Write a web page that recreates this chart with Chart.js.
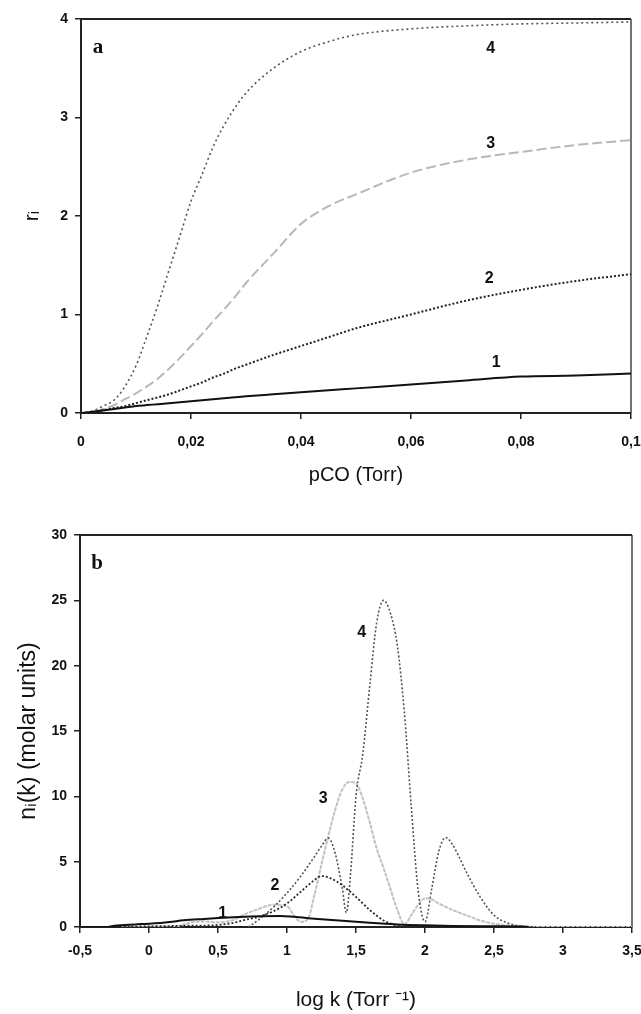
<!DOCTYPE html>
<html>
<head>
<meta charset="utf-8">
<style>
  html, body { margin: 0; padding: 0; background: #fff; }
  canvas { display: block; }
</style>
<script src="https://cdn.jsdelivr.net/npm/chart.js@4.4.1/dist/chart.umd.min.js"></script>
</head>
<body>
<canvas id="coverage_chart" width="641" height="490"></canvas>
<canvas id="distribution_chart" width="641" height="524"></canvas>
<script>
// panel a: r_i against CO pressure
const pCO = [0, 0.002, 0.004, 0.006, 0.008, 0.01, 0.012, 0.014, 0.016, 0.018, 0.02, 0.022, 0.024,
             0.026, 0.028, 0.03, 0.035, 0.04, 0.045, 0.05, 0.06, 0.07, 0.08, 0.09, 0.1];
const r1 = [0, 0.01, 0.025, 0.04, 0.055, 0.07, 0.08, 0.09, 0.1, 0.11, 0.12, 0.13, 0.14,
            0.15, 0.16, 0.17, 0.19, 0.21, 0.23, 0.25, 0.29, 0.33, 0.37, 0.38, 0.40];
const r2 = [0, 0.01, 0.03, 0.05, 0.07, 0.1, 0.13, 0.16, 0.19, 0.23, 0.27, 0.31, 0.36,
            0.4, 0.45, 0.49, 0.59, 0.68, 0.77, 0.86, 1.0, 1.14, 1.25, 1.34, 1.41];
const r3 = [0, 0.01, 0.04, 0.08, 0.14, 0.2, 0.27, 0.35, 0.45, 0.56, 0.68, 0.8, 0.93,
            1.05, 1.18, 1.32, 1.62, 1.92, 2.1, 2.22, 2.44, 2.57, 2.65, 2.72, 2.77];
const r4 = [0, 0.02, 0.07, 0.13, 0.27, 0.48, 0.78, 1.1, 1.45, 1.8, 2.15, 2.42, 2.7,
            2.92, 3.1, 3.25, 3.5, 3.67, 3.77, 3.84, 3.9, 3.93, 3.95, 3.96, 3.97];
const pcoTicks = [0, 0.02, 0.04, 0.06, 0.08, 0.1];
const pcoTickLabels = ['0', '0,02', '0,04', '0,06', '0,08', '0,1'];
const rTicks = [0, 1, 2, 3, 4];

// panel b: n_i(k) distributions over log k
const logK1 = [-0.5, -0.3, -0.25, -0.1, 0, 0.15, 0.25, 0.4, 0.5, 0.65, 0.8, 0.95, 1.05, 1.2,
               1.4, 1.6, 1.8, 2.0, 2.2, 2.5, 2.7, 2.75];
const n1 = [0, 0, 0.1, 0.2, 0.25, 0.38, 0.52, 0.62, 0.68, 0.76, 0.82, 0.84, 0.78, 0.64,
            0.47, 0.32, 0.2, 0.13, 0.08, 0.06, 0.04, 0];
const logK2 = [-0.3, 0, 0.3, 0.5, 0.6, 0.7, 0.8, 0.9, 1.0, 1.1, 1.2, 1.25, 1.3, 1.4, 1.5,
               1.6, 1.7, 1.8, 1.9, 2.7];
const n2 = [0, 0.05, 0.1, 0.15, 0.3, 0.55, 0.8, 1.2, 1.8, 2.7, 3.6, 3.9, 3.8, 3.2, 2.3,
            1.3, 0.5, 0.1, 0, 0];
const logK3 = [-0.2, 0.2, 0.3, 0.4, 0.5, 0.6, 0.7, 0.8, 0.9, 1.0, 1.05, 1.1, 1.15, 1.2, 1.25,
               1.3, 1.35, 1.4, 1.45, 1.5, 1.55, 1.6, 1.65, 1.7, 1.75, 1.8, 1.85, 1.9, 1.95,
               2.0, 2.05, 2.1, 2.2, 2.3, 2.4, 2.5, 2.6, 2.7, 2.8, 3.5];
const n3 = [0, 0.05, 0.35, 0.42, 0.35, 0.5, 1.0, 1.4, 1.7, 1.6, 0.9, 0.4, 0.6, 2.5, 4.8,
            7.0, 9.0, 10.5, 11.1, 11.0, 9.8, 8.0, 6.0, 4.5, 2.9, 1.3, 0.2, 0.9, 1.7,
            2.2, 2.1, 1.8, 1.3, 0.9, 0.5, 0.25, 0.12, 0.05, 0, 0];
const logK4 = [0.72, 0.8, 0.9, 1.0, 1.1, 1.2, 1.25, 1.3, 1.35, 1.4, 1.43, 1.46, 1.5, 1.55,
               1.6, 1.65, 1.7, 1.75, 1.8, 1.85, 1.9, 1.95, 2.0, 2.05, 2.1, 2.15, 2.2, 2.25,
               2.3, 2.4, 2.5, 2.6, 2.7, 2.8];
const n4 = [0, 0.6, 1.5, 2.6, 3.9, 5.4, 6.2, 6.8, 5.6, 3.0, 1.1, 4.0, 10, 13.3,
            18.5, 23.3, 25, 24, 21.5, 16.5, 9.3, 2.8, 0.4, 3.0, 5.8, 6.85, 6.3, 5.3,
            4.2, 2.3, 0.9, 0.3, 0.05, 0];
const logKTicks = [-0.5, 0, 0.5, 1, 1.5, 2, 2.5, 3, 3.5];
const logKTickLabels = ['-0,5', '0', '0,5', '1', '1,5', '2', '2,5', '3', '3,5'];
const nTicks = [0, 5, 10, 15, 20, 25, 30];

Chart.defaults.font.family = "'Liberation Sans', Arial, sans-serif";
Chart.defaults.color = '#111';

function points(xs, ys){
    return xs.map(function(x, i){ return {x: x, y: ys[i]}; });
}

function curve(xs, ys, color, width, dash){
    return {
        data: points(xs, ys),
        borderColor: color,
        borderWidth: width,
        borderDash: dash,
        pointRadius: 0,
        fill: false,
        cubicInterpolationMode: 'monotone'
    };
}

// keep the x axis from adding its own side padding for the end labels
function fixXAxis(height){
    return function(scale){
        scale.height = height;
        scale.paddingLeft = 0;
        scale.paddingRight = 0;
    };
}

// frame on top/right of the plot, curve numbers and the panel letter
const plotDecor = {
    id: 'plotDecor',
    beforeDatasetsDraw(chart){
        const ctx = chart.ctx;
        const a = chart.chartArea;
        ctx.save();
        ctx.strokeStyle = '#222';
        ctx.lineWidth = 2;
        ctx.beginPath();
        ctx.moveTo(a.left, a.top);
        ctx.lineTo(a.right, a.top);
        ctx.stroke();
        ctx.strokeStyle = '#444';
        ctx.lineWidth = 1.5;
        ctx.beginPath();
        ctx.moveTo(a.right, a.top);
        ctx.lineTo(a.right, a.bottom);
        ctx.stroke();
        ctx.restore();
    },
    afterDatasetsDraw(chart, args, opts){
        const ctx = chart.ctx;
        const a = chart.chartArea;
        const x = chart.scales.x;
        const y = chart.scales.y;
        ctx.save();
        ctx.fillStyle = '#111';
        ctx.textAlign = 'center';
        ctx.textBaseline = 'middle';
        ctx.font = "bold 16px 'Liberation Sans', Arial, sans-serif";
        opts.items.forEach(function(it){
            ctx.fillText(it.text, x.getPixelForValue(it.x), y.getPixelForValue(it.y));
        });
        ctx.font = "bold 21px 'Liberation Serif', 'DejaVu Serif', serif";
        ctx.fillText(opts.panel, a.left + 17, a.top + 29);
        ctx.restore();
    }
};

function initCoverageChart(){
    const ctx = document.getElementById('coverage_chart').getContext('2d');
    new Chart(ctx, {
        type: 'line',
        data: {
            datasets: [
                curve(pCO, r1, '#111', 2, []),
                curve(pCO, r2, '#222', 2, [2, 2]),
                curve(pCO, r3, '#b8b8b8', 2, [10, 4]),
                curve(pCO, r4, '#555', 1.6, [2, 3])
            ]
        },
        plugins: [plotDecor],
        options: {
            responsive: false,
            animation: false,
            layout: { padding: { left: 0, right: 10, top: 19, bottom: 0 } },
            plugins: {
                legend: { display: false },
                tooltip: { enabled: false },
                plotDecor: {
                    panel: 'a',
                    items: [
                        { text: '1', x: 0.0755, y: 0.51 },
                        { text: '2', x: 0.0742, y: 1.36 },
                        { text: '3', x: 0.0745, y: 2.74 },
                        { text: '4', x: 0.0745, y: 3.7 }
                    ]
                }
            },
            scales: {
                x: {
                    type: 'linear',
                    min: 0,
                    max: 0.1,
                    afterBuildTicks: function(scale){ scale.ticks = pcoTicks.map(function(v){ return {value: v}; }); },
                    afterFit: fixXAxis(77),
                    ticks: {
                        autoSkip: false,
                        maxRotation: 0,
                        padding: 15,
                        font: { size: 14, weight: 'bold' },
                        callback: function(value, index){ return pcoTickLabels[index]; }
                    },
                    grid: { drawOnChartArea: false, tickLength: 6, color: '#222', lineWidth: 1.5 },
                    border: { color: '#222', width: 2 },
                    title: { display: true, text: 'pCO (Torr)', font: { size: 20 }, padding: { top: 0, bottom: 3 } }
                },
                y: {
                    min: 0,
                    max: 4,
                    afterBuildTicks: function(scale){ scale.ticks = rTicks.map(function(v){ return {value: v}; }); },
                    afterFit: function(scale){ scale.width = 81; },
                    ticks: { padding: 7, font: { size: 14, weight: 'bold' } },
                    grid: { drawOnChartArea: false, tickLength: 6, color: '#222', lineWidth: 1.5 },
                    border: { color: '#222', width: 2 },
                    title: { display: true, text: 'rᵢ', font: { size: 21 }, padding: { top: 20, bottom: 0 } }
                }
            }
        }
    });
}

function initDistributionChart(){
    const ctx = document.getElementById('distribution_chart').getContext('2d');
    new Chart(ctx, {
        type: 'line',
        data: {
            datasets: [
                curve(logK1, n1, '#111', 2, []),
                curve(logK2, n2, '#2a2a2a', 1.8, [2, 2]),
                curve(logK4, n4, '#555', 1.6, [2, 2]),
                curve(logK3, n3, '#c2c2c2', 2, [4, 1])
            ]
        },
        plugins: [plotDecor],
        options: {
            responsive: false,
            animation: false,
            layout: { padding: { left: 0, right: 9, top: 45, bottom: 0 } },
            plugins: {
                legend: { display: false },
                tooltip: { enabled: false },
                plotDecor: {
                    panel: 'b',
                    items: [
                        { text: '1', x: 0.534, y: 1.05 },
                        { text: '2', x: 0.913, y: 3.2 },
                        { text: '3', x: 1.263, y: 9.85 },
                        { text: '4', x: 1.541, y: 22.5 }
                    ]
                }
            },
            scales: {
                x: {
                    type: 'linear',
                    min: -0.5,
                    max: 3.5,
                    afterBuildTicks: function(scale){ scale.ticks = logKTicks.map(function(v){ return {value: v}; }); },
                    afterFit: fixXAxis(87),
                    ticks: {
                        autoSkip: false,
                        maxRotation: 0,
                        padding: 10,
                        font: { size: 14, weight: 'bold' },
                        callback: function(value, index){ return logKTickLabels[index]; }
                    },
                    grid: { drawOnChartArea: false, tickLength: 6, color: '#222', lineWidth: 1.5 },
                    border: { color: '#222', width: 2 },
                    title: { display: true, text: 'log k (Torr ⁻¹)', font: { size: 21 }, padding: { top: 0, bottom: 1 } }
                },
                y: {
                    min: 0,
                    max: 30,
                    afterBuildTicks: function(scale){ scale.ticks = nTicks.map(function(v){ return {value: v}; }); },
                    afterFit: function(scale){ scale.width = 80; },
                    ticks: { padding: 7, font: { size: 14, weight: 'bold' } },
                    grid: { drawOnChartArea: false, tickLength: 6, color: '#222', lineWidth: 1.5 },
                    border: { color: '#222', width: 2 },
                    title: { display: true, text: 'nᵢ(k) (molar units)', font: { size: 23 }, padding: { top: 15, bottom: 0 } }
                }
            }
        }
    });
}

initCoverageChart();
initDistributionChart();
</script>
</body>
</html>
